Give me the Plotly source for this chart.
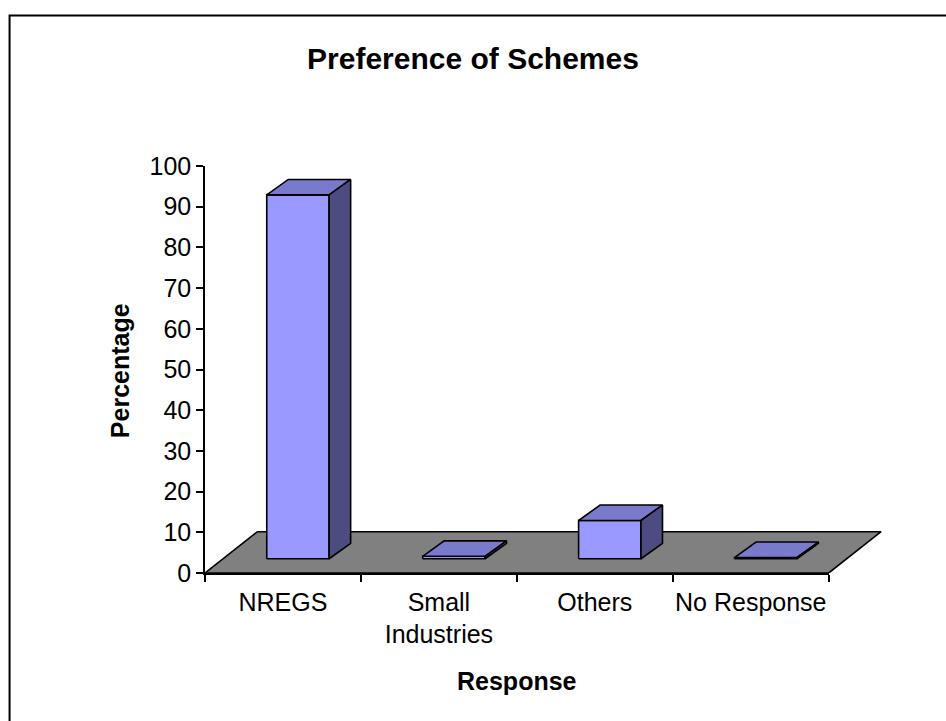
import plotly.graph_objects as go

# ---- data ----
categories = ["NREGS", "Small<br>Industries", "Others", "No Response"]
percentages = [89.4, 0.6, 9.4, 0.3]
y_ticks = [0, 10, 20, 30, 40, 50, 60, 70, 80, 90, 100]
title_text = "Preference of Schemes"
x_title = "Response"
y_title = "Percentage"

# ---- style / geometry (category units on x, value units on y) ----
FONT = "Liberation Sans, Arial, sans-serif"
FRONT = "#9999FF"
TOP = "#7A7ACC"
SIDE = "#4C4C80"
FLOOR = "#808080"
EDGE = "black"
bar_w = 0.40
front_dx, front_dy = 0.096, 3.5      # bar offset into depth of floor
depth_dx, depth_dy = 0.138, 3.8      # bar depth
floor_dx, floor_dy = 0.336, 10.15    # floor depth

W, H = 946, 721
L, T = 205, 166
plot_w = 680.2
plot_h = 406.7
R = W - L - plot_w
B = H - T - plot_h
n = len(categories)
x_range = [-0.5, n - 0.5 + floor_dx + 0.025]
x3_frac = n / (x_range[1] - x_range[0])


def px_to_paper_x(px):
    return (px - L) / plot_w


def px_to_paper_y(py):
    return (H - B - py) / plot_h


fig = go.Figure()


def poly(xs, ys, color):
    fig.add_trace(go.Scatter(
        x=xs + [xs[0]], y=ys + [ys[0]], mode="lines", fill="toself",
        fillcolor=color, line=dict(color=EDGE, width=1.6),
        hoverinfo="skip", showlegend=False, xaxis="x", yaxis="y"))


# floor
poly([-0.5, n - 0.5, n - 0.5 + floor_dx, -0.5 + floor_dx],
     [0, 0, floor_dy, floor_dy], FLOOR)

# bars
for i, v in enumerate(percentages):
    x0 = i - bar_w / 2 + front_dx
    x1 = i + bar_w / 2 + front_dx
    yb = front_dy
    yt = front_dy + v
    poly([x0, x1, x1, x0], [yb, yb, yt, yt], FRONT)
    poly([x0, x1, x1 + depth_dx, x0 + depth_dx],
         [yt, yt, yt + depth_dy, yt + depth_dy], TOP)
    poly([x1, x1 + depth_dx, x1 + depth_dx, x1],
         [yb, yb + depth_dy, yt + depth_dy, yt], SIDE)

# invisible trace to carry the category axis
fig.add_trace(go.Scatter(x=categories, y=percentages, mode="none",
                         hoverinfo="skip", showlegend=False,
                         xaxis="x3", yaxis="y"))

fig.update_layout(
    template="none",
    width=W, height=H,
    margin=dict(l=L, r=R, t=T, b=B, pad=0, autoexpand=False),
    paper_bgcolor="white", plot_bgcolor="rgba(0,0,0,0)",
    font=dict(family=FONT, size=25, color="black"),
    title=dict(text="<b>" + title_text + "</b>", x=0.5, xref="container",
               xanchor="center", y=1 - 58 / H, yref="container",
               yanchor="middle", font=dict(size=30, family=FONT, color="black")),
    xaxis=dict(range=x_range, visible=False, domain=[0, 1], anchor="y",
               fixedrange=True, automargin=False),
    xaxis3=dict(type="category", domain=[0, x3_frac], anchor="y",
                range=[-0.5, n - 0.5], tickson="boundaries", tickangle=0,
                ticks="outside", ticklen=7, tickwidth=1.5, tickcolor="black",
                ticklabelstandoff=6,
                showline=True, linecolor="black", linewidth=1.5,
                showgrid=False, zeroline=False, automargin=False,
                tickfont=dict(size=25, family=FONT, color="black")),
    yaxis=dict(range=[0, 100], tickvals=y_ticks, ticks="outside", ticklen=7,
               tickwidth=1.5, tickcolor="black", showline=True,
               linecolor="black", linewidth=1.5, showgrid=False,
               zeroline=False, automargin=False,
               tickfont=dict(size=25, family=FONT, color="black")),
    showlegend=False,
)

fig.add_annotation(text="<b>" + y_title + "</b>", textangle=-90,
                   xref="paper", yref="paper",
                   x=px_to_paper_x(120), y=px_to_paper_y(371),
                   xanchor="center", yanchor="middle", showarrow=False,
                   font=dict(size=25, family=FONT, color="black"))
fig.add_annotation(text="<b>" + x_title + "</b>",
                   xref="paper", yref="paper",
                   x=px_to_paper_x(517), y=px_to_paper_y(681),
                   xanchor="center", yanchor="middle", showarrow=False,
                   font=dict(size=25, family=FONT, color="black"))

# outer chart border (top and left edges visible)
fig.add_shape(type="rect", xref="paper", yref="paper",
              x0=px_to_paper_x(9.5), y0=px_to_paper_y(H + 20),
              x1=px_to_paper_x(W + 20), y1=px_to_paper_y(15.5),
              line=dict(color="black", width=2), fillcolor="rgba(0,0,0,0)",
              layer="below")

fig.write_html("out.html")
